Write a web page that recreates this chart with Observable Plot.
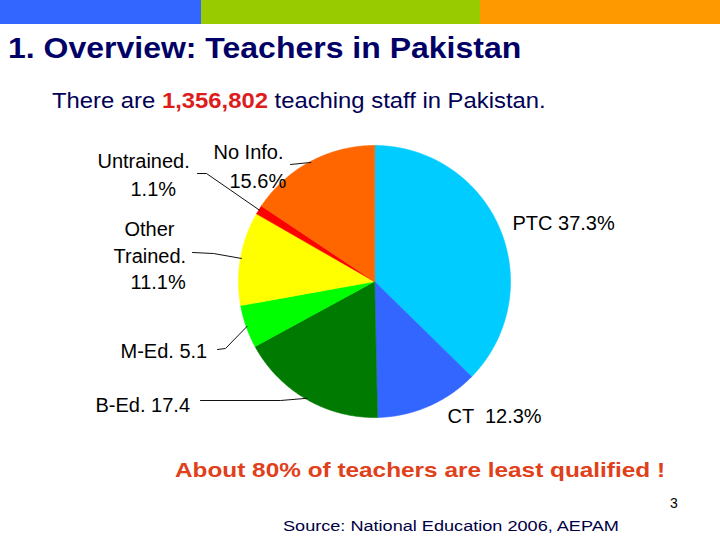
<!DOCTYPE html>
<html>
<head>
<meta charset="utf-8">
<script src="https://cdn.jsdelivr.net/npm/d3@7"></script>
<script src="https://cdn.jsdelivr.net/npm/@observablehq/plot@0.6"></script>
<style>
  html, body { margin: 0; padding: 0; background: #fff; }
  body { width: 720px; height: 540px; position: relative; overflow: hidden;
         font-family: "Liberation Sans", Arial, sans-serif; }
  .bar { position: absolute; top: 0; height: 24px; }
  .t { position: absolute; white-space: nowrap; line-height: 1; transform-origin: 0 0; }
  #chart { position: absolute; left: 0; top: 125px; }
</style>
</head>
<body>
<div class="bar" style="left:0;width:201px;background:#3366FF"></div>
<div class="bar" style="left:201px;width:279px;background:#99CC00"></div>
<div class="bar" style="left:480px;width:240px;background:#FF9900"></div>
<div class="t" style="left:8px;top:33.7px;font-size:29px;font-weight:bold;color:#000066;transform:scaleX(1.103)">1. Overview: Teachers in Pakistan</div>
<div class="t" style="left:52px;top:90.4px;font-size:22px;color:#000055;transform:scaleX(1.083)">There are <b style="color:#DD1C1C">1,356,802</b> teaching staff in Pakistan.</div>
<div id="chart"></div>
<div class="t" style="left:175px;top:459.4px;font-size:21px;font-weight:bold;color:#E0401A;transform:scaleX(1.16)">About 80% of teachers are least qualified !</div>
<div class="t" style="left:670px;top:496px;font-size:14px;color:#000">3</div>
<div class="t" style="left:283px;top:517.6px;font-size:15.5px;color:#000044;transform:scaleX(1.168)">Source: National Education 2006, AEPAM</div>
<script>
// ---- data ----
const categories = ["PTC", "CT", "B-Ed.", "M-Ed.", "Other Trained.", "Untrained.", "No Info."];
const shares = [37.3, 12.3, 17.4, 5.1, 11.1, 1.1, 15.6];
const sliceColors = ["#00CCFF", "#3366FF", "#007A00", "#00FF00", "#FFFF00", "#FF0000", "#FF6600"];
const labelLines = [
  ["PTC 37.3%"],
  ["CT  12.3%"],
  ["B-Ed. 17.4"],
  ["M-Ed. 5.1"],
  ["Other", "Trained.", "11.1%"],
  ["Untrained.", "1.1%"],
  ["No Info.", "15.6%"]
];

// ---- layout (page pixel coordinates) ----
const pieCenter = {x: 374, y: 281};
const pieRadius = 136;
const labelLayout = [
  {lines: [[512, 229]], leader: null},
  {lines: [[447, 422]], leader: null},
  {lines: [[95, 411]], leader: [[200, 400], [280, 400]]},
  {lines: [[120, 357]], leader: [[217, 349], [225, 348]]},
  {lines: [[124, 235], [113, 262], [130, 288]], leader: [[192, 252], [213, 253]]},
  {lines: [[97, 167], [130, 195]], leader: [[197, 173], [206, 173]]},
  {lines: [[213, 158], [229, 187]], leader: [[290, 164]]}
];

const rows = categories.map((c, i) => ({cat: c, value: shares[i], color: sliceColors[i], i}));
const arcs = d3.pie().sort(null).value(d => d.value).startAngle(0).endAngle(2 * Math.PI)(rows);
const pt = (a, r) => ({x: pieCenter.x + r * Math.sin(a), y: pieCenter.y - r * Math.cos(a)});

const slicePts = [];
for (const a of arcs) {
  slicePts.push({cat: a.data.cat, color: a.data.color, ...pieCenter});
  const n = Math.max(2, Math.ceil((a.endAngle - a.startAngle) / 0.01));
  for (let k = 0; k <= n; k++) {
    const ang = a.startAngle + (a.endAngle - a.startAngle) * k / n;
    slicePts.push({cat: a.data.cat, color: a.data.color, ...pt(ang, pieRadius)});
  }
}

const leaderPts = [];
const textRows = [];
arcs.forEach((a, i) => {
  const lay = labelLayout[i];
  lay.lines.forEach(([x, y], j) => textRows.push({x, y, text: labelLines[i][j]}));
  if (lay.leader) {
    lay.leader.forEach(([x, y]) => leaderPts.push({cat: a.data.cat, x, y}));
    const mid = (a.startAngle + a.endAngle) / 2;
    leaderPts.push({cat: a.data.cat, ...pt(mid, pieRadius - 1)});
  }
});

const chart = Plot.plot({
  width: 720,
  height: 320,
  margin: 0,
  x: {domain: [0, 720], range: [0, 720], axis: null},
  y: {domain: [125, 445], range: [0, 320], axis: null},
  color: {type: "identity"},
  style: {fontFamily: "'Liberation Sans', Arial, sans-serif", background: "transparent"},
  marks: [
    Plot.line(slicePts, {x: "x", y: "y", z: "cat", fill: "color", stroke: "color", strokeWidth: 0.6, curve: "linear-closed"}),
    Plot.line(leaderPts, {x: "x", y: "y", z: "cat", stroke: "#111", strokeWidth: 1}),
    Plot.text(textRows, {x: "x", y: "y", text: "text", textAnchor: "start", lineAnchor: "bottom", fontSize: 20, fill: "#000"})
  ]
});
document.getElementById("chart").appendChild(chart);
</script>
</body>
</html>
